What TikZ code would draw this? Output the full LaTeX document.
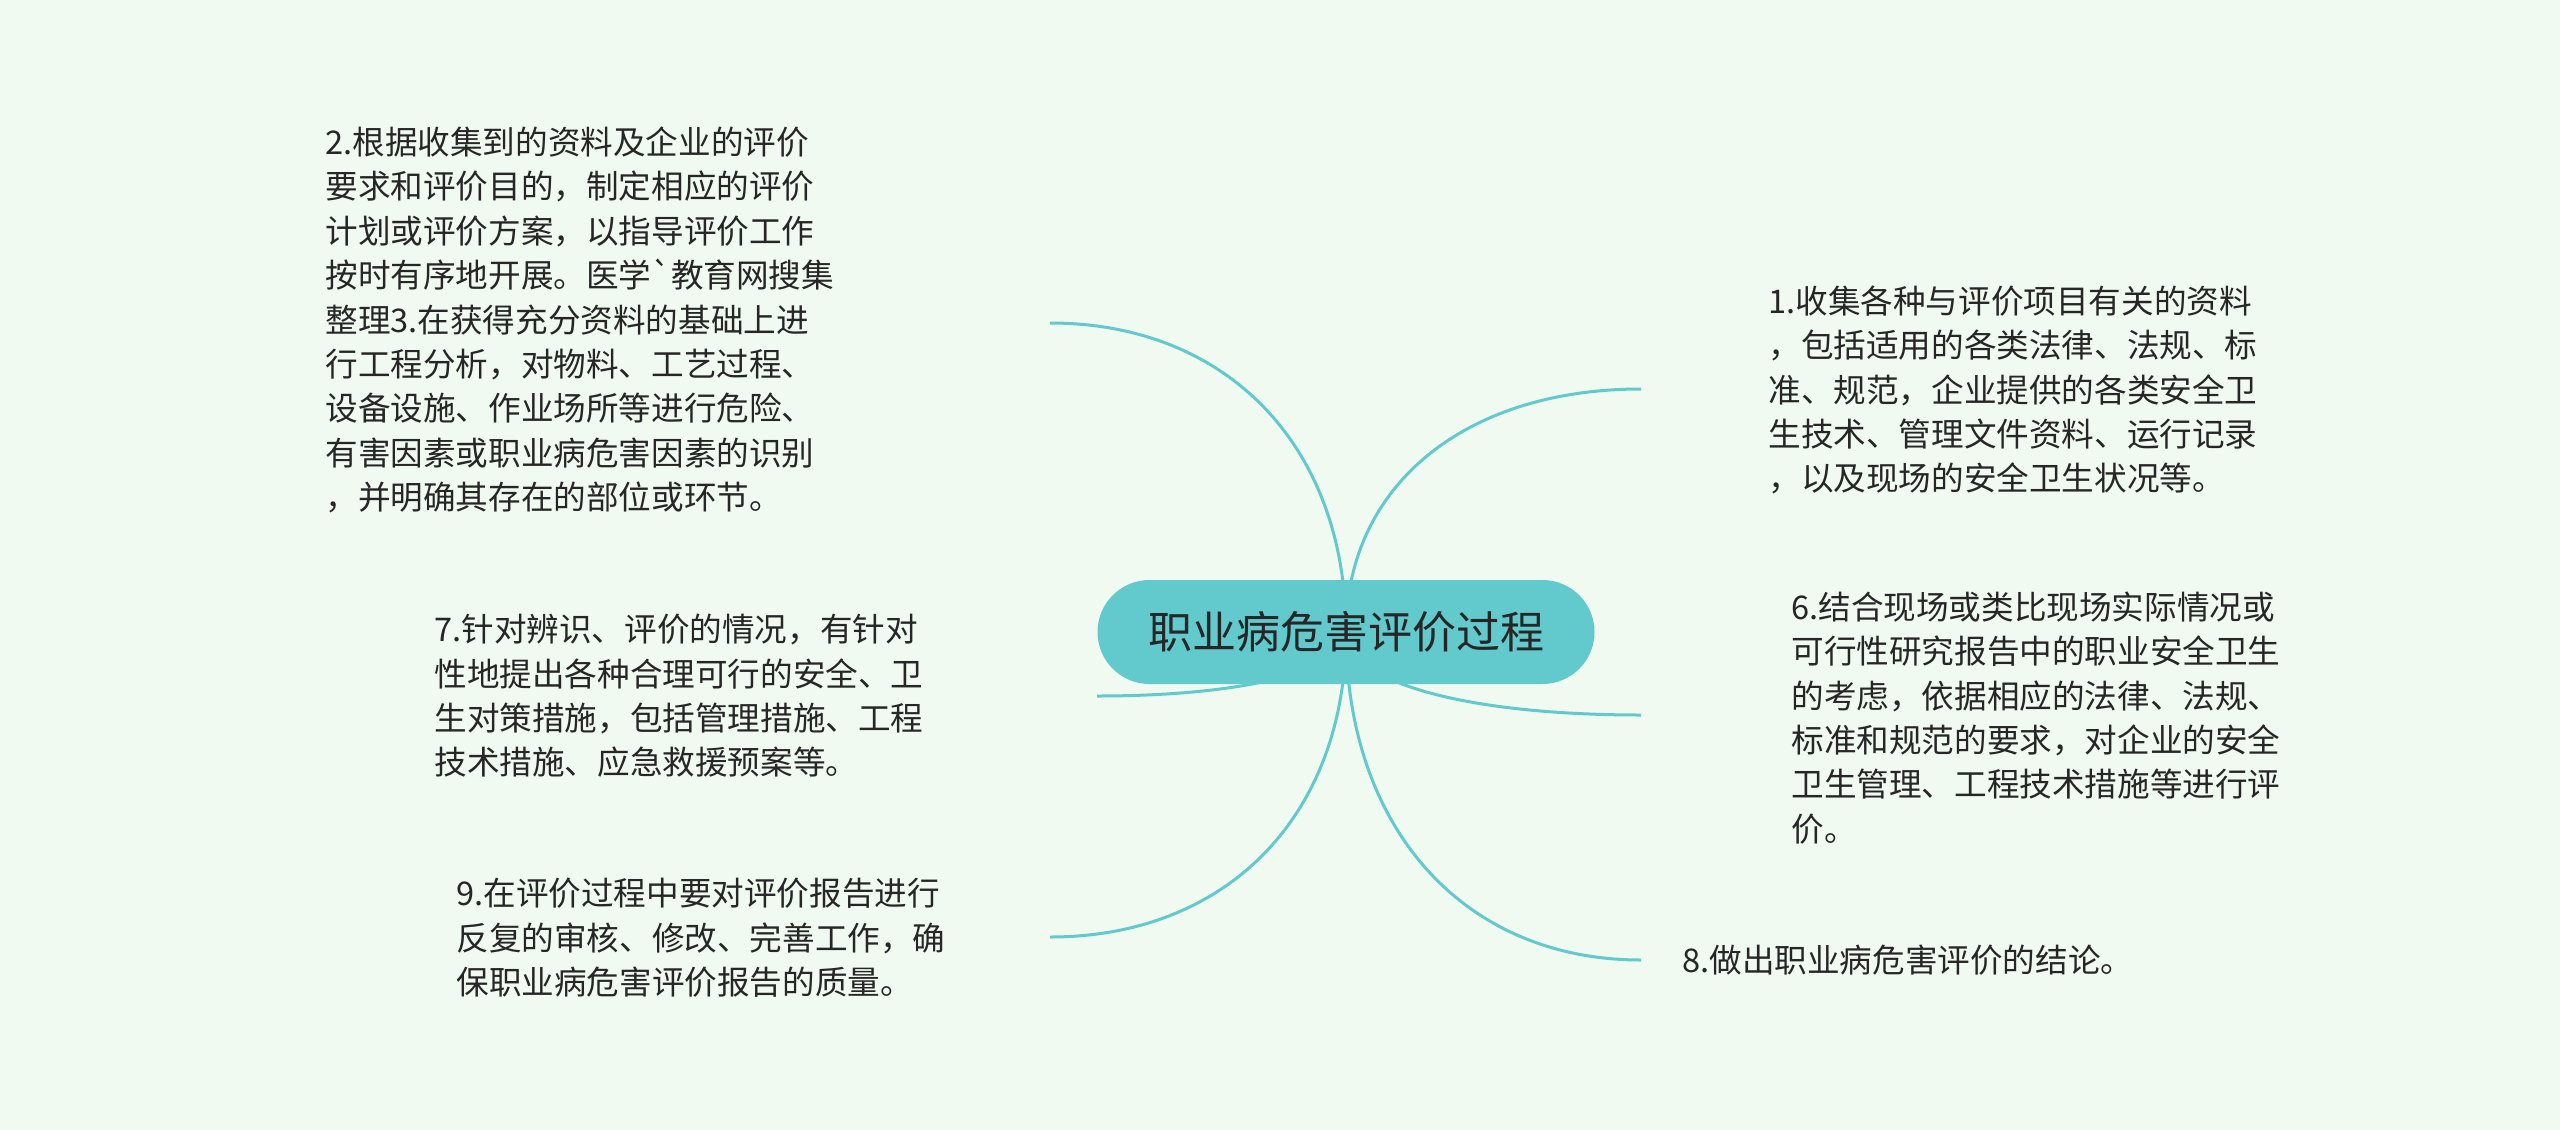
\documentclass[tikz,border=0pt]{standalone}
\usepackage{fontspec}
\usetikzlibrary{calc}
\setmainfont{Noto Sans CJK SC}
\newfontfamily\cjk{Noto Sans CJK SC}
\definecolor{bgc}{HTML}{F0FAF0}
\definecolor{teal}{HTML}{62C9CC}
\definecolor{txt}{HTML}{262626}
\tikzset{
  leaf/.style={anchor=west, inner sep=0pt, align=left, text=txt,
    font=\cjk\fontsize{16.3pt}{22.2pt}\selectfont},
  link/.style={draw=teal, line width=1.5pt},
  rootbox/.style={fill=teal, rounded corners=26pt, minimum width=248.5pt,
    minimum height=52pt, inner sep=0pt, text=txt,
    font=\cjk\fontsize{22pt}{26pt}\selectfont}
}
\newcommand{\branch}[2]{\draw[link] (#1) .. controls ($(#1)!0.6!(#1 |- #2)$) and ($(#1 |- #2)!0.4!(#2)$) .. (#2);}
\begin{document}
\begin{tikzpicture}[x=0.5pt,y=-0.5pt]
\fill[bgc] (0,0) rectangle (2560,1130);
\useasboundingbox (0,0) rectangle (2560,1130);

\coordinate (c) at (1346,632);
\coordinate (e2) at (1050,323);
\coordinate (e1) at (1641,389);
\coordinate (e7) at (1097,696);
\coordinate (e6) at (1641,715);
\coordinate (e9) at (1050,937);
\coordinate (e8) at (1641,960);

\branch{c}{e2}
\branch{c}{e1}
\branch{c}{e7}
\branch{c}{e6}
\branch{c}{e9}
\branch{c}{e8}

\node[rootbox] (root) at (c) {职业病危害评价过程};

\node[leaf] (t2) at (325,320) {2.根据收集到的资料及企业的评价\\要求和评价目的，制定相应的评价\\计划或评价方案，以指导评价工作\\按时有序地开展。医学\textasciigrave 教育网搜集\\整理3.在获得充分资料的基础上进\\行工程分析，对物料、工艺过程、\\设备设施、作业场所等进行危险、\\有害因素或职业病危害因素的识别\\，并明确其存在的部位或环节。};
\node[leaf] (t1) at (1768,390) {1.收集各种与评价项目有关的资料\\，包括适用的各类法律、法规、标\\准、规范，企业提供的各类安全卫\\生技术、管理文件资料、运行记录\\，以及现场的安全卫生状况等。};
\node[leaf] (t7) at (434,696) {7.针对辨识、评价的情况，有针对\\性地提出各种合理可行的安全、卫\\生对策措施，包括管理措施、工程\\技术措施、应急救援预案等。};
\node[leaf] (t6) at (1791,718) {6.结合现场或类比现场实际情况或\\可行性研究报告中的职业安全卫生\\的考虑，依据相应的法律、法规、\\标准和规范的要求，对企业的安全\\卫生管理、工程技术措施等进行评\\价。};
\node[leaf] (t9) at (456,938) {9.在评价过程中要对评价报告进行\\反复的审核、修改、完善工作，确\\保职业病危害评价报告的质量。};
\node[leaf] (t8) at (1682,960) {8.做出职业病危害评价的结论。};
\end{tikzpicture}
\end{document}
